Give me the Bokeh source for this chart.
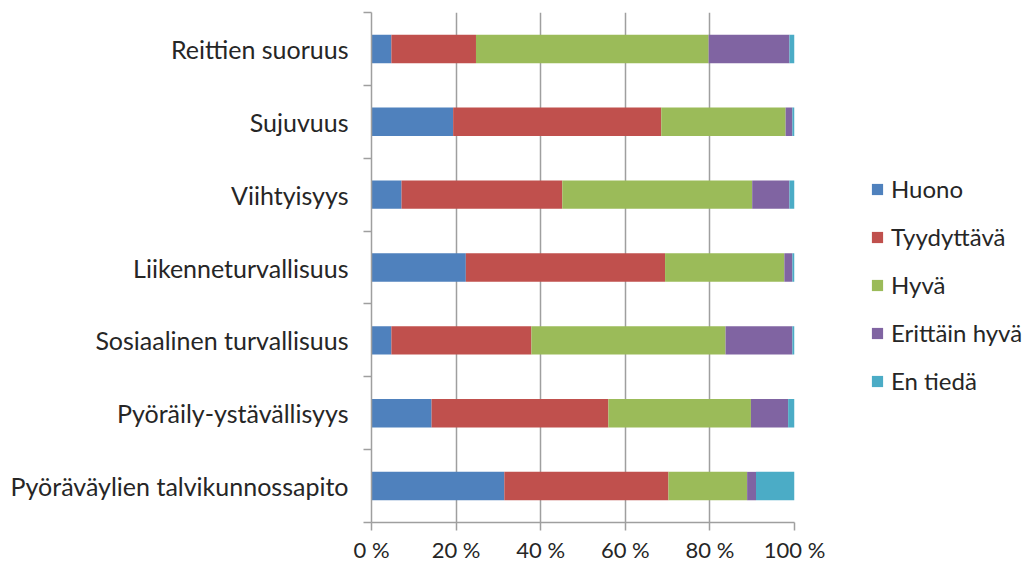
from bokeh.plotting import figure
from bokeh.models import (ColumnDataSource, Range1d, FixedTicker, Legend, LegendItem)
from bokeh.embed import file_html
from bokeh.resources import INLINE

categories = ["Reittien suoruus", "Sujuvuus", "Viihtyisyys", "Liikenneturvallisuus",
              "Sosiaalinen turvallisuus", "Pyöräily-ystävällisyys",
              "Pyöräväylien talvikunnossapito"]
series = ["Huono", "Tyydyttävä", "Hyvä", "Erittäin hyvä", "En tiedä"]
huono = [4.7, 19.3, 7.1, 22.3, 4.7, 14.2, 31.4]
tyydyttava = [20.0, 49.2, 38.0, 47.1, 33.1, 41.8, 38.8]
hyva = [55.0, 29.4, 44.9, 28.2, 45.9, 33.7, 18.6]
erittain = [19.1, 1.6, 8.8, 1.9, 15.8, 8.8, 2.1]
en_tieda = [1.2, 0.5, 1.2, 0.5, 0.5, 1.5, 9.1]
colors = ["#4F81BD", "#C0504D", "#9BBB59", "#8064A2", "#4BACC6"]
x_ticks = [0, 20, 40, 60, 80, 100]
x_tick_labels = ["0 %", "20 %", "40 %", "60 %", "80 %", "100 %"]

n = len(categories)
ypos = [n - 1 - i for i in range(n)]  # top category first
keys = ["s0", "s1", "s2", "s3", "s4"]
data = dict(y=ypos, s0=huono, s1=tyydyttava, s2=hyva, s3=erittain, s4=en_tieda)
src = ColumnDataSource(data)

FONT = "Lato"
TXT = "#262626"
GRID = "#9f9f9f"

p = figure(frame_width=423, frame_height=510, output_backend="svg", toolbar_location=None,
           x_range=Range1d(0, 100), y_range=Range1d(-0.5, n - 0.5),
           min_border_left=371, min_border_right=0, min_border_top=12,
           min_border_bottom=29)
p.outline_line_color = None
p.background_fill_color = "white"
p.border_fill_color = "white"

rs = p.hbar_stack(keys, y="y", height=0.39, color=colors, source=src, line_color=None)

# grid
p.ygrid.grid_line_color = None
p.xgrid.grid_line_color = GRID
p.xgrid.grid_line_width = 1.5
p.xgrid.ticker = FixedTicker(ticks=x_ticks)

# x axis
xa = p.xaxis[0]
xa.ticker = FixedTicker(ticks=x_ticks)
xa.major_label_overrides = {t: l for t, l in zip(x_ticks, x_tick_labels)}
xa.axis_line_color = GRID
xa.axis_line_width = 1.5
xa.major_tick_line_color = GRID
xa.major_tick_line_width = 1.5
xa.major_tick_in = 0
xa.major_tick_out = 8
xa.minor_tick_line_color = None
xa.major_label_text_font = FONT
xa.major_label_text_font_size = "22px"
xa.major_label_text_color = TXT
xa.major_label_standoff = 5

# y axis
ya = p.yaxis[0]
ya.ticker = FixedTicker(ticks=ypos, minor_ticks=[i + 0.5 for i in range(-1, n)])
ya.major_label_overrides = {yv: c for yv, c in zip(ypos, categories)}
ya.axis_line_color = GRID
ya.axis_line_width = 1.5
ya.major_tick_line_color = None
ya.major_tick_out = 0
ya.major_tick_in = 0
ya.minor_tick_line_color = GRID
ya.minor_tick_line_width = 1.5
ya.minor_tick_out = 8
ya.minor_tick_in = 0
ya.major_label_text_font = FONT
ya.major_label_text_font_size = "25px"
ya.major_label_text_color = TXT
ya.major_label_standoff = 15

legend = Legend(items=[LegendItem(label=s, renderers=[r]) for s, r in zip(series, rs)],
                location=(76, 127), orientation="vertical")
legend.border_line_color = None
legend.background_fill_alpha = 0
legend.glyph_width = 14
legend.glyph_height = 14
legend.label_text_font = FONT
legend.label_text_font_size = "24px"
legend.label_text_color = TXT
legend.label_height = 24
legend.spacing = 19
legend.label_standoff = 7
legend.padding = 0
legend.margin = 0
p.add_layout(legend, "right")

open("out.html", "w").write(file_html(p, INLINE))
